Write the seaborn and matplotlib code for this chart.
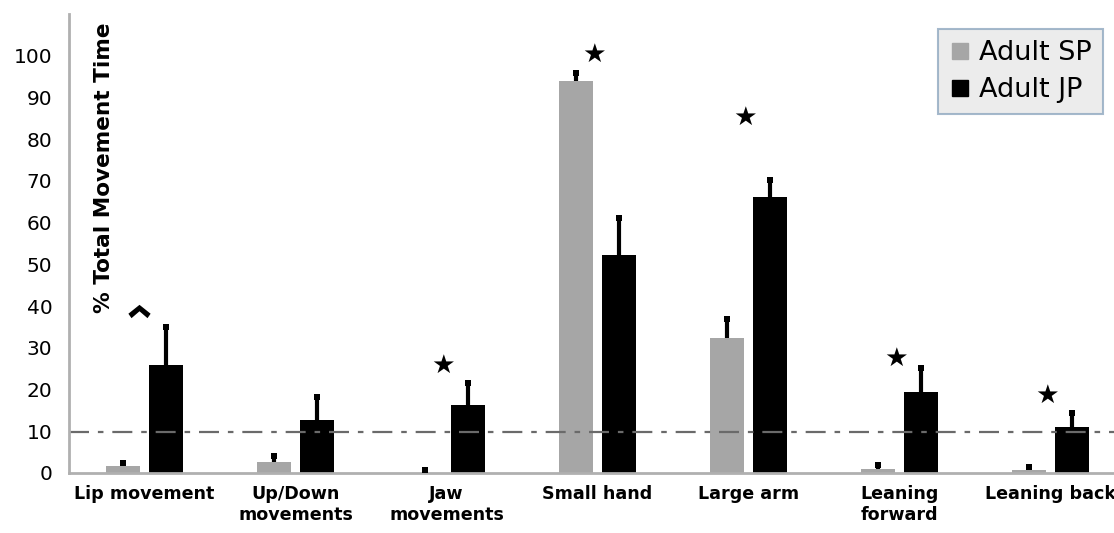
import matplotlib
matplotlib.use("Agg")
import matplotlib.pyplot as plt
import seaborn as sns
import pandas as pd
import numpy as np
from matplotlib.lines import Line2D
from matplotlib.path import Path

categories = ["Lip movement", "Up/Down\nmovements", "Jaw\nmovements", "Small hand",
              "Large arm", "Leaning\nforward", "Leaning back"]
groups = ["Adult SP", "Adult JP"]
sp_values = [1.7, 2.7, 0.1, 94.0, 32.3, 0.9, 0.6]
jp_values = [25.8, 12.8, 16.3, 52.2, 66.1, 19.5, 11.1]
sp_err = [0.7, 1.4, 0.5, 1.8, 4.5, 1.0, 0.9]
jp_err = [9.3, 5.5, 5.2, 8.9, 4.2, 5.7, 3.2]
# significance markers: (category index, height, symbol)
sig_marks = [(0, 38.8, "^"), (2, 25.6, "★"), (3, 100.2, "★"),
             (4, 85.0, "★"), (5, 27.3, "★"), (6, 18.4, "★")]
chance_level = 9.8
yticks = list(range(0, 101, 10))

df = pd.DataFrame({
    "category": categories * 2,
    "group": [groups[0]] * len(categories) + [groups[1]] * len(categories),
    "value": sp_values + jp_values,
})

sns.set_style("white")
plt.rcParams["font.family"] = ["DejaVu Sans"]
plt.rcParams["text.color"] = "black"
plt.rcParams["xtick.color"] = "black"
plt.rcParams["ytick.color"] = "black"

fig = plt.figure(figsize=(11.14, 5.33), dpi=100)
ax = fig.add_axes([0.062, 0.1126, 0.938, 0.861])

palette = {"Adult SP": "#a6a6a6", "Adult JP": "#000000"}
sns.barplot(data=df, x="category", y="value", hue="group", order=categories,
            hue_order=groups, palette=palette, width=0.57, gap=0.21,
            errorbar=None, saturation=1, legend=False, linewidth=0, ax=ax)

# upward-only error bars with a small square cap
for container, errs in zip(ax.containers, [sp_err, jp_err]):
    for bar, e in zip(container, errs):
        xc = bar.get_x() + bar.get_width() / 2
        h = bar.get_height()
        ax.vlines(xc, h, h + e, colors="black", linewidth=3, zorder=3)
        ax.plot(xc, h + e, marker="s", markersize=4.5, color="black",
                markeredgewidth=0, zorder=3)

# chance level
ax.axhline(chance_level, color="#6a6a6a", lw=1.6,
           linestyle=(0, (9, 4, 2.5, 4)), zorder=1)

# thick chevron symbol
chevron = Path([(-1, -0.2), (0, 0.6), (1, -0.2), (0.72, -0.6), (0, 0.02),
                (-0.72, -0.6), (-1, -0.2)],
               [Path.MOVETO] + [Path.LINETO] * 5 + [Path.CLOSEPOLY])

# significance markers
for idx, y, sym in sig_marks:
    if sym == "^":
        ax.plot(idx - 0.04, y, marker=chevron, markersize=16,
                color="black", markeredgewidth=0)
    else:
        ax.text(idx - 0.02, y, sym, ha="center", va="center", fontsize=19,
                color="black")

ax.set_ylim(0, 110)
ax.set_xlim(-0.5, 6.42)
ax.set_yticks(yticks)
ax.set_yticklabels([str(t) for t in yticks], fontsize=14.5)
ax.tick_params(axis="y", length=7, width=1.5, color="#b0b0b0", pad=5)
ax.tick_params(axis="x", length=0, pad=9)
for lbl in ax.get_xticklabels():
    lbl.set_fontsize(12.6)
    lbl.set_fontweight("bold")
ax.set_xlabel("")
ax.set_ylabel("")

for side in ["top", "right"]:
    ax.spines[side].set_visible(False)
for side in ["left", "bottom"]:
    ax.spines[side].set_color("#b0b0b0")
    ax.spines[side].set_linewidth(2)

ax.text(0.033, 0.982, "% Total Movement Time", transform=ax.transAxes,
        rotation=90, ha="center", va="top", fontsize=15.6, fontweight="bold")

handles = [Line2D([], [], marker="s", linestyle="none", markersize=11.5,
                  color=palette[g]) for g in groups]
leg = ax.legend(handles, groups, loc="upper right", bbox_to_anchor=(0.989, 0.967),
                fontsize=19.5, frameon=True, fancybox=False, handletextpad=0.3,
                handlelength=0.8, borderpad=0.4, labelspacing=0.42,
                borderaxespad=0.0)
leg.get_frame().set_facecolor("#e8e8e8")
leg.get_frame().set_edgecolor("#8fa8c0")
leg.get_frame().set_linewidth(1.5)

fig.savefig("out.png", dpi=100)
